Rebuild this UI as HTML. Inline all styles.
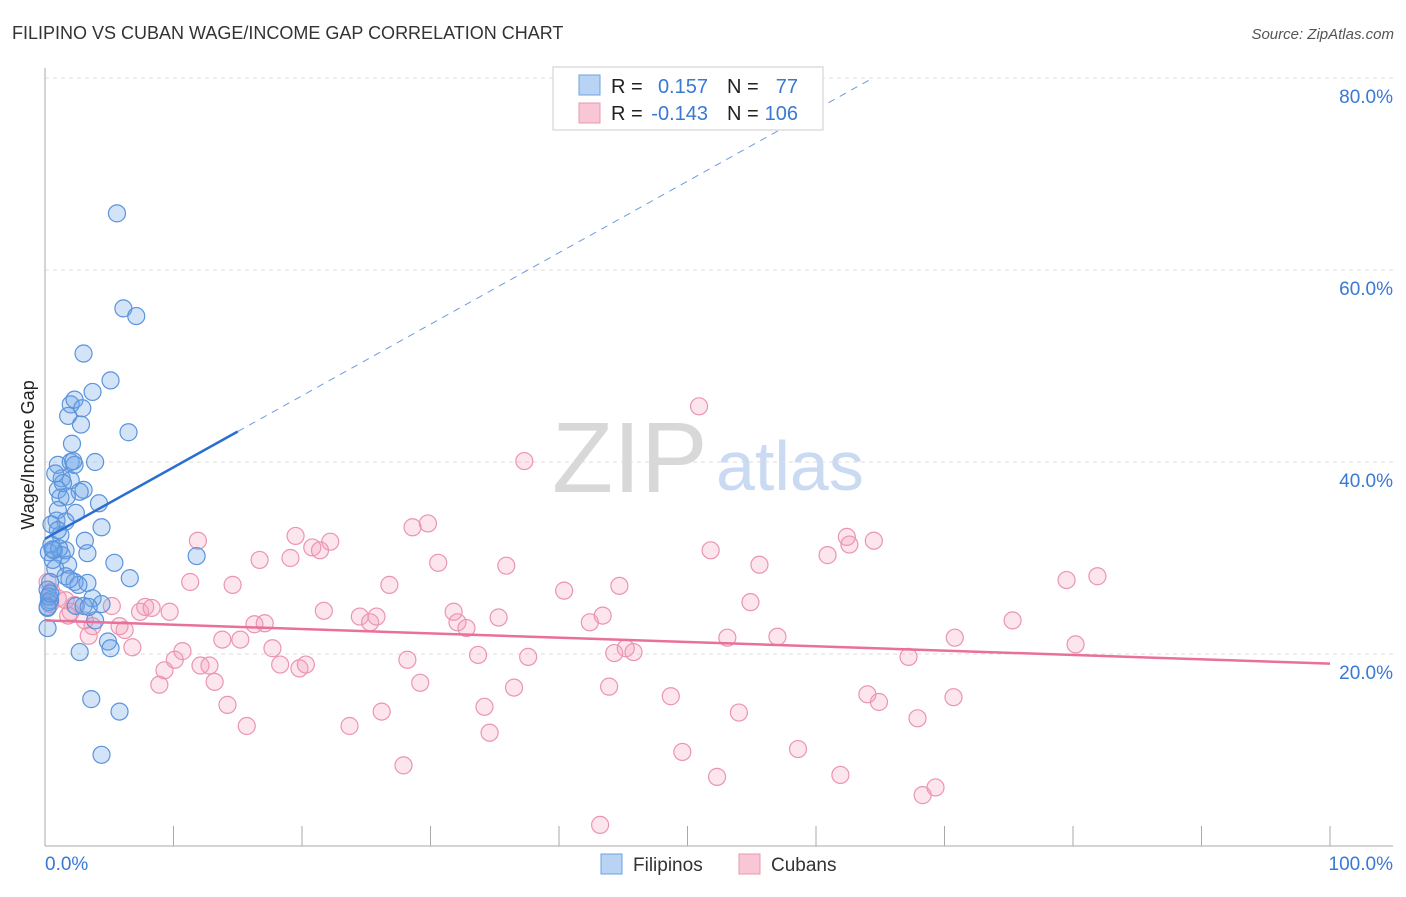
<!DOCTYPE html>
<html><head><meta charset="utf-8"><style>
body{margin:0;background:#fff;font-family:"Liberation Sans",sans-serif}
svg text{font-family:"Liberation Sans",sans-serif}
</style></head><body>
<svg id="chart" width="1406" height="892" xmlns="http://www.w3.org/2000/svg">
<text x="12" y="39" font-size="18" fill="#333">FILIPINO VS CUBAN WAGE/INCOME GAP CORRELATION CHART</text>
<text x="1394" y="39" font-size="15" fill="#555" font-style="italic" text-anchor="end">Source: ZipAtlas.com</text>
<g>
<text x="552" y="492" font-size="100" fill="#d8d8d8" font-family="Liberation Serif,serif">ZIP</text>
<text x="716" y="490" font-size="70" fill="#c9daf2">atlas</text>
</g>
<g id="grid"></g>
<g id="axes"></g>
<g id="marks"></g>
<g>
<rect x="553" y="67" width="270" height="63" fill="#fff" stroke="#ccc"/>
<rect x="579" y="75" width="21" height="20" fill="#b9d3f5" stroke="#6ea0e0"/>
<rect x="579" y="103" width="21" height="20" fill="#f9c6d5" stroke="#ea98b2"/>
<text x="611" y="93" font-size="20" fill="#222">R =</text>
<text x="708" y="93" font-size="20" fill="#3a78d4" text-anchor="end">0.157</text>
<text x="727" y="93" font-size="20" fill="#222">N =</text>
<text x="798" y="93" font-size="20" fill="#3a78d4" text-anchor="end">77</text>
<text x="611" y="120" font-size="20" fill="#222">R =</text>
<text x="708" y="120" font-size="20" fill="#3a78d4" text-anchor="end">-0.143</text>
<text x="727" y="120" font-size="20" fill="#222">N =</text>
<text x="798" y="120" font-size="20" fill="#3a78d4" text-anchor="end">106</text>
</g>
<g>
<rect x="601" y="854" width="21" height="20" fill="#b9d3f5" stroke="#6ea0e0"/>
<text x="633" y="871" font-size="19" fill="#333">Filipinos</text>
<rect x="739" y="854" width="21" height="20" fill="#f9c6d5" stroke="#ea98b2"/>
<text x="771" y="871" font-size="19" fill="#333">Cubans</text>
</g>
<text transform="translate(34,455) rotate(-90)" font-size="18" fill="#222" text-anchor="middle">Wage/Income Gap</text>
</svg>
<script>
const yTicks=[20,40,60,80];
const yTickLabels=["20.0%","40.0%","60.0%","80.0%"];
const xEndLabels=["0.0%","100.0%"];
const filipinoX=[5.6,6.1,7.1,3.0,5.1,3.7,2.0,2.3,2.9,1.8,2.8,6.5,2.1,1.0,2.0,2.3,3.9,1.3,2.0,3.0,1.0,2.7,1.2,4.2,1.0,2.4,0.9,1.6,4.4,1.2,3.1,0.5,0.7,1.6,3.3,1.3,11.8,5.4,1.8,0.8,1.6,6.6,0.4,2.3,3.3,2.6,0.2,3.7,0.4,4.4,2.4,3.0,0.2,3.9,0.2,4.9,5.1,2.7,3.6,5.8,4.4,0.3,0.6,1.1,0.3,1.4,0.5,2.2,0.8,0.3,1.7,1.0,0.2,0.4,3.4,1.9,0.6];
const filipinoY=[65.9,56.0,55.2,51.3,48.5,47.3,46.0,46.5,45.6,44.8,43.9,43.1,41.9,39.7,40.0,39.7,40.0,38.3,38.1,37.1,37.1,36.9,36.3,35.7,35.0,34.7,33.9,33.8,33.2,32.4,31.8,31.4,30.8,30.8,30.5,30.3,30.2,29.5,29.3,28.9,28.1,27.9,27.5,27.5,27.4,27.2,26.7,25.8,25.6,25.2,25.0,25.0,24.8,23.5,22.7,21.3,20.6,20.2,15.3,14.0,9.5,30.6,29.8,31.0,25.4,37.8,33.5,40.1,38.8,26.0,36.4,32.9,24.9,26.3,24.9,27.8,30.9];
const cubanX=[0.2,0.5,1.0,1.6,0.4,2.0,2.3,1.8,3.1,3.7,5.2,3.4,6.2,5.8,6.8,7.4,7.8,8.3,9.7,8.9,9.3,10.1,10.7,11.3,11.9,12.1,12.8,13.2,13.8,14.2,14.6,15.2,15.7,16.3,16.7,17.1,17.7,18.3,19.1,19.5,19.8,20.3,20.8,21.4,21.7,22.2,23.7,24.5,25.3,25.8,26.2,26.8,27.9,28.2,28.6,29.8,29.2,30.6,31.8,32.1,32.8,33.7,34.2,34.6,35.3,35.9,36.5,37.3,37.6,40.4,42.4,43.2,43.4,43.9,44.3,44.7,45.2,45.8,48.7,49.6,50.9,51.8,52.3,53.1,54.0,54.9,55.6,57.0,58.6,60.9,61.9,62.4,62.6,64.0,64.5,64.9,67.2,67.9,68.3,69.3,70.7,70.8,75.3,79.5,80.2,81.9];
const cubanY=[27.5,26.5,25.8,25.6,25.2,24.4,25.1,24.0,23.5,22.9,25.0,21.9,22.5,22.9,20.7,24.4,24.9,24.8,24.4,16.8,18.3,19.4,20.3,27.5,31.8,18.8,18.8,17.1,21.5,14.7,27.2,21.5,12.5,23.1,29.8,23.2,20.6,18.9,30.0,32.3,18.5,18.9,31.1,30.8,24.5,31.7,12.5,23.9,23.3,23.9,14.0,27.2,8.4,19.4,33.2,33.6,17.0,29.5,24.4,23.3,22.7,19.9,14.5,11.8,23.8,29.2,16.5,40.1,19.7,26.6,23.3,2.2,24.0,16.6,20.1,27.1,20.6,20.2,15.6,9.8,45.8,30.8,7.2,21.7,13.9,25.4,29.3,21.8,10.1,30.3,7.4,32.2,31.4,15.8,31.8,15.0,19.7,13.3,5.3,6.1,15.5,21.7,23.5,27.7,21.0,28.1];
const filipinoTrend=[32.0,0.745]; // intercept, slope (per % x)
const cubanTrend=[23.5,-0.045];
const solidEnd=15;

const NS="http://www.w3.org/2000/svg";
const X0=45,X1=1330,Y0=846,PY=9.6;
const sx=v=>X0+(X1-X0)*v/100;
const sy=v=>Y0-v*PY;
function mk(tag,attrs,parent){const e=document.createElementNS(NS,tag);for(const k in attrs)e.setAttribute(k,attrs[k]);document.getElementById(parent).appendChild(e);return e;}
// grid
yTicks.forEach((t,i)=>{
  const l=mk('line',{x1:X0,x2:1393,y1:sy(t),y2:sy(t),stroke:'#ddd','stroke-dasharray':'4,4'},'grid');
  
  
  const tx=mk('text',{x:1393,y:sy(t)+25,'font-size':19,fill:'#3a78d4','text-anchor':'end'},'grid');
  tx.textContent=yTickLabels[i];
  
  
});
// axes
const ya=mk('line',{x1:X0,x2:X0,y1:68,y2:Y0,stroke:'#aaa'},'axes');


const xa=mk('line',{x1:X0,x2:1393,y1:Y0,y2:Y0,stroke:'#aaa'},'axes');


for(let i=0;i<=10;i++){
  const t=mk('line',{x1:sx(i*10),x2:sx(i*10),y1:Y0,y2:Y0-20,stroke:'#aaa'},'axes');
  
  
}
[[0,'start',45],[100,'end',1393]].forEach((d,i)=>{
  const t=mk('text',{x:d[2],y:870,'font-size':19,fill:'#3a78d4','text-anchor':d[1]},'axes');
  t.textContent=xEndLabels[i];
  
  
});
// points
cubanX.forEach((x,i)=>{
  const c=mk('circle',{cx:sx(x),cy:sy(cubanY[i]),r:8.5,fill:'rgba(244,160,188,0.28)',stroke:'#eb94b1','stroke-width':1.2},'marks');
  
  
});
filipinoX.forEach((x,i)=>{
  const c=mk('circle',{cx:sx(x),cy:sy(filipinoY[i]),r:8.5,fill:'rgba(110,165,232,0.3)',stroke:'#5b93dc','stroke-width':1.2},'marks');
  
  
});
// trends
const fy=x=>filipinoTrend[0]+filipinoTrend[1]*x;
const xEndF=(80-filipinoTrend[0])/filipinoTrend[1];
const t1=mk('line',{x1:sx(0),y1:sy(fy(0)),x2:sx(solidEnd),y2:sy(fy(solidEnd)),stroke:'#2a6fd0','stroke-width':2.5},'marks');


const t2=mk('line',{x1:sx(solidEnd),y1:sy(fy(solidEnd)),x2:sx(xEndF),y2:sy(fy(xEndF)),stroke:'#6d9be0','stroke-width':1,'stroke-dasharray':'7,6'},'marks');


const cy=x=>cubanTrend[0]+cubanTrend[1]*x;
const t3=mk('line',{x1:sx(0),y1:sy(cy(0)),x2:sx(100),y2:sy(cy(100)),stroke:'#e8709a','stroke-width':2.5},'marks');


</script>
</body></html>
